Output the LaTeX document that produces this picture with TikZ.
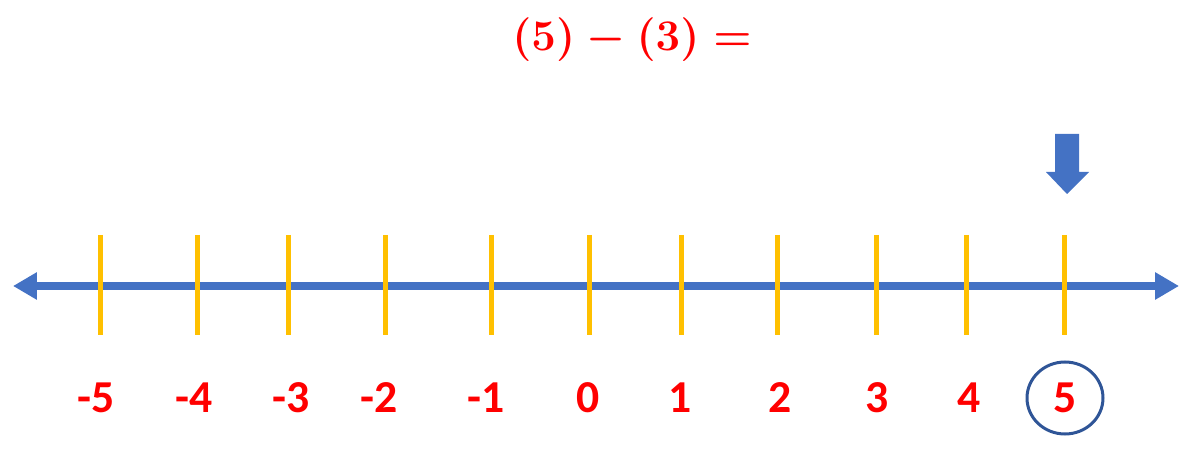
\documentclass[tikz,border=0pt]{standalone}
\usepackage{fontspec}
\newfontfamily\numfont{Carlito}
\usetikzlibrary{arrows.meta}
\definecolor{axisblue}{HTML}{4472C4}
\definecolor{tickgold}{HTML}{FFC000}
\definecolor{ringblue}{HTML}{2F5597}
\definecolor{numred}{HTML}{FF0000}
\tikzset{
  ticmark/.style={tickgold, line width=0.1cm},
  numlabel/.style={text=numred, font=\numfont\bfseries\fontsize{26}{30}\selectfont, inner sep=0pt},
  sumlabel/.style={text=numred, font=\fontsize{23}{28}\selectfont\boldmath, inner sep=0pt},
}
\begin{document}
\begin{tikzpicture}[>={Triangle[length=0.48cm,width=0.52cm]}, x=0.02cm, y=-0.02cm]
  \useasboundingbox (0,0) rectangle (1188,459);
  % question
  \node[sumlabel] (sum) at (632,40) {$(5)-(3)=$};
  % number line
  \coordinate (lend) at (13,286);
  \coordinate (rend) at (1179,286);
  \draw[<->, axisblue, line width=0.16cm] (lend) -- (rend);
  \foreach \v/\x/\lx [count=\i] in {-5/100/96,-4/197/194,-3/288/291,-2/385/379,-1/491/486,
      0/589/588,1/681/680,2/777/780,3/876/877,4/966/969,5/1064/1065}{
    \draw[ticmark] (\x,235) -- (\x,335);
    \node[numlabel] (lbl\i) at (\lx,398) {\v};
  }
  % answer
  \draw[ringblue, line width=0.06cm] (lbl11.center) ellipse [x radius=38, y radius=36];
  \fill[axisblue] (1055,134) -- (1079,134) -- (1079,172) -- (1089,172) -- (1067,194)
    -- (1046,172) -- (1055,172) -- cycle;
\end{tikzpicture}
\end{document}
